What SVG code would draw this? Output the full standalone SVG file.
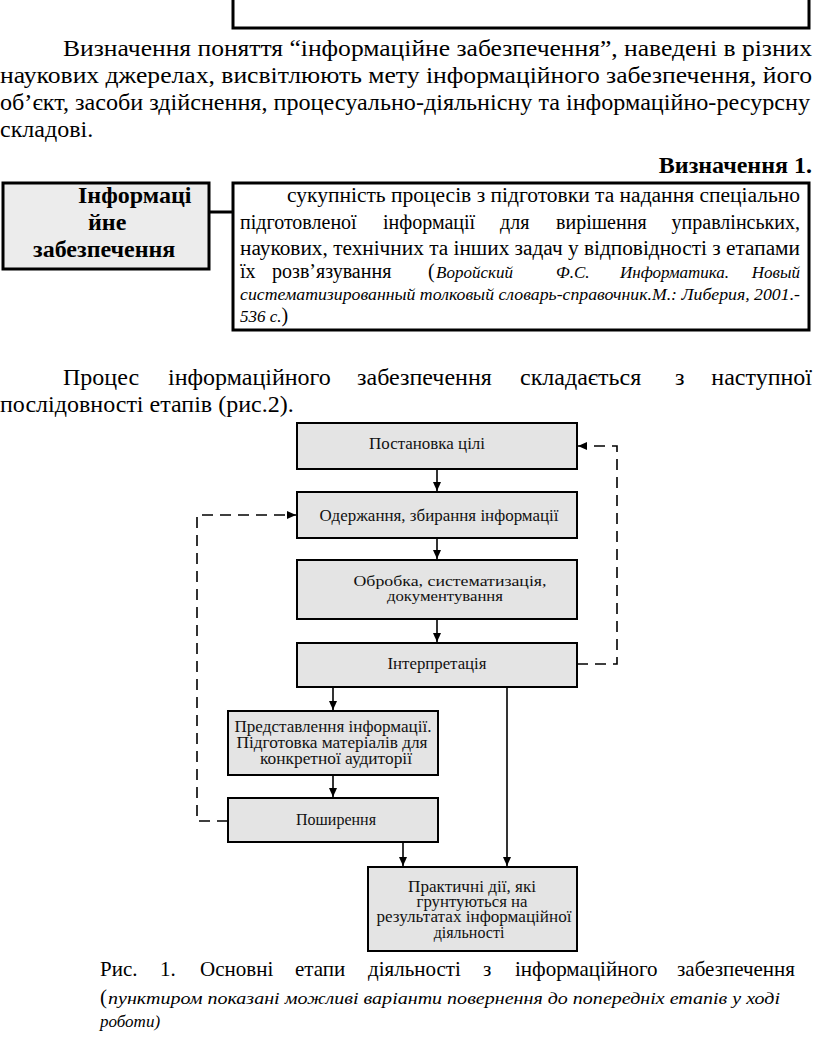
<svg xmlns="http://www.w3.org/2000/svg" width="816" height="1064" viewBox="0 0 816 1064">
<style>
text{font-family:"Liberation Serif","Times New Roman","DejaVu Serif",serif;fill:#000}
.p{font-size:24px}
.d{font-size:20px}
.di{font-size:17px;font-style:italic}
.b{font-size:24px;font-weight:bold}
.f{font-size:16px;fill:#111;text-anchor:middle}
.cap{font-size:21px}
.box{fill:#e4e4e4;stroke:#000;stroke-width:2}
.c{fill:none;stroke:#000;stroke-width:1.6}
.dash{fill:none;stroke:#000;stroke-width:1.6;stroke-dasharray:11 7}
</style>
<defs>
<marker id="ah" markerUnits="userSpaceOnUse" markerWidth="9" markerHeight="8" refX="9" refY="4" orient="auto">
<path d="M0,0 L9,4 L0,8 z" fill="#000"/>
</marker>
</defs>

<rect x="233" y="-10" width="576" height="38" fill="#fff" stroke="#000" stroke-width="3"/>

<g id="para1">
<text class="p" x="63" y="56" textLength="749" lengthAdjust="spacingAndGlyphs">Визначення поняття “інформаційне забезпечення”, наведені в різних</text>
<text class="p" x="0" y="83" textLength="812" lengthAdjust="spacingAndGlyphs">наукових джерелах, висвітлюють мету інформаційного забезпечення, його</text>
<text class="p" x="0" y="110" textLength="810" lengthAdjust="spacingAndGlyphs">об’єкт, засоби здійснення, процесуально-діяльнісну та інформаційно-ресурсну</text>
<text class="p" x="0" y="137">складові.</text>
</g>

<text class="b" x="812" y="173" text-anchor="end">Визначення 1.</text>

<g id="term">
<rect x="3" y="183" width="206" height="86" fill="#ececec" stroke="#000" stroke-width="3"/>
<text class="b" x="78" y="203">Інформаці</text>
<text class="b" x="88" y="230">йне</text>
<text class="b" x="33" y="257">забезпечення</text>
</g>

<g id="link">
<line x1="209" y1="212" x2="233" y2="212" stroke="#000" stroke-width="3"/>
</g>

<g id="definition">
<rect x="233" y="183" width="576" height="147" fill="#fff" stroke="#000" stroke-width="3"/>
<text class="d" x="287" y="202" textLength="513" lengthAdjust="spacingAndGlyphs">сукупність процесів з підготовки та надання спеціально</text>
<text class="d" x="240" y="229">підготовленої</text>
<text class="d" x="383" y="229">інформації</text>
<text class="d" x="500" y="229">для</text>
<text class="d" x="556" y="229">вирішення</text>
<text class="d" x="800" y="229" text-anchor="end">управлінських,</text>
<text class="d" x="240" y="255" textLength="560" lengthAdjust="spacingAndGlyphs">наукових, технічних та інших задач у відповідності з етапами</text>
<text class="d" x="240" y="278">їх</text>
<text class="d" x="272" y="278">розв’язування</text>
<text class="d" x="428" y="278">(</text>
<text class="di" x="436" y="278">Воройский</text>
<text class="di" x="556" y="278">Ф.С.</text>
<text class="di" x="620" y="278">Информатика.</text>
<text class="di" x="800" y="278" text-anchor="end">Новый</text>
<text class="di" x="240" y="300" textLength="560" lengthAdjust="spacingAndGlyphs">систематизированный толковый словарь-справочник.М.: Либерия, 2001.-</text>
<text class="di" x="240" y="322">536 с.<tspan style="font-style:normal;font-size:20px">)</tspan></text>
</g>

<g id="para2">
<text class="p" x="63" y="385">Процес</text>
<text class="p" x="168" y="385">інформаційного</text>
<text class="p" x="357" y="385">забезпечення</text>
<text class="p" x="520" y="385">складається</text>
<text class="p" x="675" y="385">з</text>
<text class="p" x="812" y="385" text-anchor="end">наступної</text>
<text class="p" x="0" y="412">послідовності етапів (рис.2).</text>
</g>

<g id="connectors">
<line class="c" x1="437" y1="469" x2="437" y2="491" marker-end="url(#ah)"/>
<line class="c" x1="437" y1="538" x2="437" y2="559" marker-end="url(#ah)"/>
<line class="c" x1="437" y1="619" x2="437" y2="642" marker-end="url(#ah)"/>
<line class="c" x1="333" y1="687" x2="333" y2="710" marker-end="url(#ah)"/>
<line class="c" x1="333" y1="775" x2="333" y2="797" marker-end="url(#ah)"/>
<line class="c" x1="403" y1="842" x2="403" y2="866" marker-end="url(#ah)"/>
<line class="c" x1="507" y1="687" x2="507" y2="866" marker-end="url(#ah)"/>
<path class="dash" d="M577,664 H617 V446 H578" marker-end="url(#ah)"/>
<path class="dash" d="M228,821 H197 V515 H296" marker-end="url(#ah)"/>
</g>

<g id="n1">
<rect class="box" x="297" y="423" width="280" height="46"/>
<text class="f" x="427" y="449" textLength="116" lengthAdjust="spacingAndGlyphs">Постановка цілі</text>
</g>
<g id="n2">
<rect class="box" x="297" y="492" width="280" height="46"/>
<text class="f" x="439" y="521" textLength="239" lengthAdjust="spacingAndGlyphs">Одержання, збирання інформації</text>
</g>
<g id="n3">
<rect class="box" x="297" y="560" width="280" height="59"/>
<text class="f" x="450" y="586" style="font-size:15px" textLength="193" lengthAdjust="spacingAndGlyphs">Обробка, систематизація,</text>
<text class="f" x="445" y="601" style="font-size:15px" textLength="116" lengthAdjust="spacingAndGlyphs">документування</text>
</g>
<g id="n4">
<rect class="box" x="297" y="643" width="280" height="44"/>
<text class="f" x="437" y="669" textLength="99" lengthAdjust="spacingAndGlyphs">Інтерпретація</text>
</g>
<g id="n5">
<rect class="box" x="228" y="711" width="210" height="64"/>
<text class="f" x="333" y="732" textLength="197" lengthAdjust="spacingAndGlyphs">Представлення інформації.</text>
<text class="f" x="332" y="748" textLength="191" lengthAdjust="spacingAndGlyphs">Підготовка матеріалів для</text>
<text class="f" x="336" y="764" textLength="152" lengthAdjust="spacingAndGlyphs">конкретної аудиторії</text>
</g>
<g id="n6">
<rect class="box" x="228" y="798" width="210" height="44"/>
<text class="f" x="336" y="825">Поширення</text>
</g>
<g id="n7">
<rect class="box" x="368" y="867" width="209" height="84"/>
<text class="f" x="472" y="892" textLength="128" lengthAdjust="spacingAndGlyphs">Практичні дії, які</text>
<text class="f" x="472" y="907" textLength="111" lengthAdjust="spacingAndGlyphs">грунтуються на</text>
<text class="f" x="474" y="922" textLength="195" lengthAdjust="spacingAndGlyphs">результатах інформаційної</text>
<text class="f" x="469" y="938">діяльності</text>
</g>

<g id="caption">
<text class="cap" x="100" y="976">Рис.</text>
<text class="cap" x="160" y="976">1.</text>
<text class="cap" x="200" y="976">Основні</text>
<text class="cap" x="295" y="976">етапи</text>
<text class="cap" x="368" y="976">діяльності</text>
<text class="cap" x="483" y="976">з</text>
<text class="cap" x="515" y="976">інформаційного</text>
<text class="cap" x="795" y="976" text-anchor="end">забезпечення</text>
<text class="cap" x="100" y="1004">(</text>
<text class="di" x="108" y="1004" textLength="672" lengthAdjust="spacingAndGlyphs">пунктиром показані можливі варіанти повернення до попередніх етапів у ході</text>
<text class="di" x="100" y="1027">роботи)</text>
</g>
</svg>
